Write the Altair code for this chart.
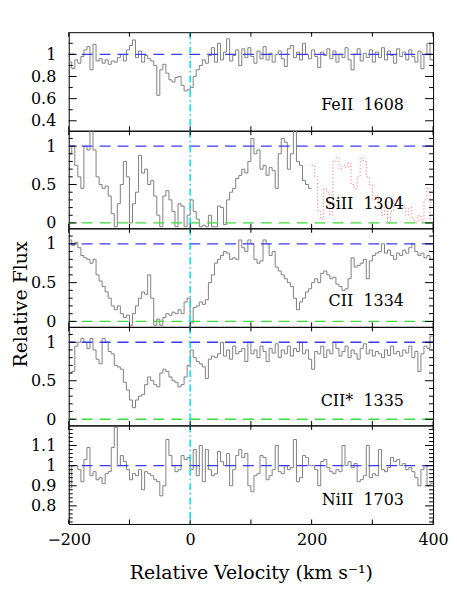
import json
import altair as alt
import pandas as pd

# ---------------- data ----------------
STEP = 5            # km/s per spectral pixel (approx.)
V_START = -200
X_DOMAIN = [-200, 400]
X_TICKS = [-200, -100, 0, 100, 200, 300, 400]
X_LABELS = [-200, 0, 200, 400]
X_TITLE = "Relative Velocity (km s\u207b\u00b9)"
Y_TITLE = "Relative Flux"

# FeII 1608, v = -200 ... 395 (5 km/s steps)
FEII_1608 = [
    0.93, 0.87, 0.95, 0.92, 0.98, 1.04, 1.07, 0.86, 1.09, 0.94,
    0.96, 0.92, 0.95, 0.91, 0.94, 0.93, 0.97, 1.00, 0.94, 1.04,
    1.08, 1.13, 0.97, 1.03, 0.93, 0.99, 0.96, 0.94, 0.90, 0.63,
    0.86, 0.91, 0.83, 0.77, 0.75, 0.79, 0.80, 0.72, 0.67, 0.68,
    0.70, 0.80, 0.86, 0.90, 0.95, 0.92, 0.99, 1.06, 0.93, 1.10,
    0.95, 1.02, 1.14, 0.94, 0.99, 1.04, 0.90, 1.05, 0.97, 1.06,
    0.98, 0.92, 1.03, 0.96, 1.07, 0.95, 1.01, 0.93, 1.00, 1.03,
    0.96, 0.89, 1.05, 1.08, 0.97, 1.02, 0.95, 1.10, 1.00, 0.96,
    1.04, 0.98, 0.88, 1.02, 0.99, 1.05, 0.96, 1.03, 0.93, 1.00,
    0.97, 1.06, 0.95, 0.86, 1.00, 1.05, 0.94, 1.01, 0.97, 1.04,
    0.93, 1.02, 0.97, 1.06, 0.95, 1.03, 0.99, 0.92, 1.05, 0.98,
    1.02, 0.95, 1.04, 0.98, 0.93, 1.03, 0.87, 1.00, 1.10, 0.95,
]

# SiII 1304, v = -200 ... 195
SIII_1304 = [
    0.90, 1.00, 0.75, 0.60, 0.45, 1.00, 0.95, 1.25, 0.95, 0.60,
    0.50, 0.45, 0.48, 0.35, 0.12, -0.05, 0.25, 0.50, 0.80, 0.60,
    0.00, 0.25, 0.40, 0.88, 0.65, 0.70, 0.50, 0.55, 0.35, 0.10,
    -0.05, 0.35, 0.42, 0.30, 0.15, -0.05, 0.25, 0.22, -0.05, 0.10,
    0.30, 0.15, 0.05, -0.05, -0.03, -0.05, 0.10, -0.05, -0.05, 0.22,
    0.20, -0.02, 0.30, 0.40, 0.45, 0.58, 0.62, 0.70, 0.65, 0.80,
    1.10, 0.90, 0.95, 0.70, 0.75, 0.62, 0.72, 0.68, 0.45, 0.90,
    1.10, 1.05, 0.70, 0.90, 1.25, 0.80, 0.75, 0.55, 0.50, 0.45,
]
# SiII 1304 blended part (dotted), v = 200 ... 395
SIII_1304_BLEND = [
    0.75, 0.60, 0.15, 0.05, 0.45, 0.40, 0.10, 0.80, 0.85, 0.70,
    0.75, 0.72, 0.78, 0.50, 0.45, 0.60, 0.85, 0.80, 0.60, 0.50,
    0.30, 0.35, 0.25, 0.10, 0.20, 0.00, 0.15, 0.30, 0.25, 0.20,
    0.22, 0.10, 0.20, 0.05, 0.00, 0.10, 0.02, 0.30, 0.45, 0.05,
]

# CII 1334, v = -200 ... 395
CII_1334 = [
    1.05, 0.98, 1.02, 0.95, 0.85, 0.82, 0.80, 0.75, 0.80, 0.60,
    0.52, 0.45, 0.38, 0.30, 0.20, 0.15, 0.20, 0.10, 0.05, 0.08,
    -0.05, 0.10, 0.20, 0.30, 0.38, 0.35, 0.60, 0.30, -0.05, 0.03,
    -0.05, 0.05, 0.10, 0.08, 0.12, 0.10, 0.15, 0.10, 0.25, 0.30,
    -0.02, 0.18, 0.20, 0.25, 0.22, 0.28, 0.50, 0.60, 0.75, 0.80,
    0.85, 0.90, 0.88, 0.80, 0.82, 0.80, 1.05, 0.95, 0.90, 1.05,
    1.00, 0.80, 0.75, 0.78, 1.05, 1.00, 0.85, 0.90, 0.70, 0.65,
    0.60, 0.55, 0.50, 0.45, 0.30, 0.15, 0.25, 0.30, 0.38, 0.42,
    0.50, 0.55, 0.50, 0.62, 0.65, 0.60, 0.55, 0.57, 0.48, 0.45,
    0.40, 0.42, 0.55, 0.82, 0.70, 0.72, 0.75, 0.80, 0.55, 0.78,
    0.85, 0.88, 0.90, 1.00, 0.88, 0.92, 0.85, 0.80, 0.88, 0.85,
    0.92, 0.88, 0.95, 1.00, 0.90, 0.85, 0.88, 0.82, 0.85, 0.80,
]

# CII* 1335, v = -200 ... 395
CIIS_1335 = [
    0.60, 0.62, 0.95, 1.00, 1.05, 1.00, 0.92, 1.05, 0.90, 0.78,
    0.72, 1.05, 1.00, 0.88, 0.85, 0.70, 0.68, 0.65, 0.48, 0.38,
    0.25, 0.15, 0.25, 0.30, 0.32, 0.45, 0.55, 0.50, 0.45, 0.42,
    0.60, 0.65, 0.62, 0.55, 0.50, 0.48, 0.42, 0.45, 0.55, 0.70,
    0.90, 0.80, 0.75, 0.72, 0.68, 0.53, 0.78, 0.82, 0.80, 0.85,
    1.00, 0.82, 0.90, 0.78, 0.95, 0.85, 0.88, 0.92, 0.75, 1.00,
    0.85, 0.90, 0.80, 0.95, 0.88, 0.75, 0.92, 0.86, 0.98, 0.80,
    0.90, 0.85, 0.95, 0.82, 0.92, 0.88, 1.00, 0.85, 0.90, 0.78,
    0.65, 0.88, 0.85, 0.95, 0.80, 0.90, 0.85, 1.00, 0.92, 0.82,
    0.88, 0.95, 0.80, 0.90, 0.85, 0.78, 0.92, 0.98, 0.85, 0.90,
    0.82, 0.88, 0.85, 0.80, 0.90, 0.83, 0.95, 0.85, 0.88, 0.82,
    0.90, 0.86, 0.95, 0.80, 0.88, 0.62, 0.85, 0.95, 0.92, 1.08,
]

# NiII 1703, v = -200 ... 395
NIII_1703 = [
    0.89, 1.00, 1.00, 0.98, 0.92, 1.03, 1.09, 0.95, 0.97, 0.93,
    0.94, 0.91, 0.96, 0.97, 1.09, 1.19, 1.00, 1.05, 1.02, 0.98,
    0.93, 0.96, 0.95, 0.98, 0.88, 0.97, 0.96, 0.95, 0.93, 0.92,
    0.85, 0.90, 1.13, 1.05, 1.00, 0.97, 0.98, 1.05, 1.03, 1.04,
    0.98, 1.08, 0.95, 1.10, 0.92, 1.08, 0.98, 0.95, 0.96, 1.07,
    1.02, 1.00, 1.06, 0.90, 0.98, 1.05, 1.08, 1.04, 1.06, 0.90,
    0.87, 0.95, 0.96, 1.05, 1.04, 0.93, 0.95, 0.98, 1.10, 0.97,
    0.96, 1.00, 0.98, 0.99, 1.13, 0.92, 0.94, 1.05, 1.04, 1.00,
    1.00, 0.98, 0.90, 1.02, 1.03, 0.99, 0.97, 0.96, 0.98, 0.97,
    1.10, 1.00, 1.02, 0.99, 1.01, 0.92, 0.93, 0.95, 1.10, 0.94,
    0.96, 0.95, 1.08, 0.98, 0.97, 0.99, 1.04, 1.02, 1.03, 1.00,
    1.01, 0.98, 0.99, 0.97, 0.94, 0.90, 0.98, 1.00, 0.90, 0.91,
]

LABELS = ["FeII\u00a0\u00a01608", "SiII\u00a0\u00a01304", "CII\u00a0\u00a01334",
          "CII*\u00a0\u00a01335", "NiII\u00a0\u00a01703"]

# y tick values per panel
TICKS_FE_MAJOR = [0.4, 0.6, 0.8, 1.0]
TICKS_FE_MINOR = [0.5, 0.7, 0.9, 1.1]
TICKS_01_MAJOR = [0.0, 0.5, 1.0]
TICKS_01_MINOR = [0.1, 0.2, 0.3, 0.4, 0.6, 0.7, 0.8, 0.9, 1.1]
TICKS_NI_MAJOR = [0.8, 0.9, 1.0, 1.1]
TICKS_NI_MINOR = [0.72, 0.74, 0.76, 0.78, 0.82, 0.84, 0.86, 0.88, 0.92, 0.94,
                  0.96, 0.98, 1.02, 1.04, 1.06, 1.08, 1.12, 1.14, 1.16, 1.18]

# ---------------- layout / style ----------------
FONT = "DejaVu Serif"
W = 366
MAJOR_LEN = 8
MINOR_LEN = 4
XTICK_LEN = 4.5

PANELS = [
    dict(flux=FEII_1608, label=LABELS[0], dom=[0.31, 1.2], major=TICKS_FE_MAJOR,
         minor=TICKS_FE_MINOR, ly=0.545, zero=False, h=99),
    dict(flux=SIII_1304, label=LABELS[1], dom=[-0.07, 1.2], major=TICKS_01_MAJOR,
         minor=TICKS_01_MINOR, ly=0.246, zero=True, h=98, blend=SIII_1304_BLEND),
    dict(flux=CII_1334, label=LABELS[2], dom=[-0.07, 1.2], major=TICKS_01_MAJOR,
         minor=TICKS_01_MINOR, ly=0.26, zero=True, h=99, title=True),
    dict(flux=CIIS_1335, label=LABELS[3], dom=[-0.08, 1.2], major=TICKS_01_MAJOR,
         minor=TICKS_01_MINOR, ly=0.24, zero=True, h=99),
    dict(flux=NIII_1703, label=LABELS[4], dom=[0.71, 1.2], major=TICKS_NI_MAJOR,
         minor=TICKS_NI_MINOR, ly=0.83, zero=False, h=99),
]


def step_frame(values, start):
    v = [start + STEP * i for i in range(len(values) + 1)]
    f = list(values) + [values[-1]]
    return pd.DataFrame({"v": v, "f": f})


def one_row():
    return pd.DataFrame({"k": [0]})


def tick_frame(vals):
    return pd.DataFrame({"t": list(vals)})


def make_panel(cfg, last):
    h = cfg["h"]
    xs = alt.Scale(domain=X_DOMAIN, nice=False, zero=False)
    ys = alt.Scale(domain=cfg["dom"], nice=False, zero=False)

    left_kw = dict(orient="left", values=cfg["major"], ticks=False, format="~g",
                   labelPadding=13, labelOverlap=False, labelFlush=False, title=None)
    if cfg.get("title"):
        left_kw.update(title=Y_TITLE, titleY=76, titlePadding=0)
    left = alt.Axis(**left_kw)

    if last:
        bottom = alt.Axis(orient="bottom", values=X_LABELS, ticks=False, format="d",
                          labelPadding=8, labelFlush=False, labelOverlap=False,
                          title=X_TITLE, titlePadding=16)
    else:
        bottom = None

    spec = step_frame(cfg["flux"], V_START)
    layers = [
        alt.Chart(spec).mark_line(interpolate="step-after", color="#808080",
                                  strokeWidth=1, clip=True)
        .encode(x=alt.X("v:Q", scale=xs, axis=bottom), y=alt.Y("f:Q", scale=ys, axis=left))
    ]
    if "blend" in cfg:
        layers.append(
            alt.Chart(step_frame(cfg["blend"], 200))
            .mark_line(interpolate="step-after", color="#ff7a7a", strokeWidth=1,
                       strokeDash=[1.2, 2.2], clip=True)
            .encode(x=alt.X("v:Q", scale=xs, axis=None), y=alt.Y("f:Q", scale=ys, axis=None))
        )
    layers.append(
        alt.Chart(one_row()).mark_rule(color="#3a3aff", strokeWidth=1.3, strokeDash=[11, 7])
        .encode(y=alt.YDatum(1, axis=None))
    )
    if cfg["zero"]:
        layers.append(
            alt.Chart(one_row()).mark_rule(color="#3ddc3d", strokeWidth=1.3, strokeDash=[11, 7])
            .encode(y=alt.YDatum(0, axis=None))
        )
    layers.append(
        alt.Chart(one_row()).mark_rule(color="#00e0f0", strokeWidth=1.5, strokeDash=[7, 3, 1.5, 3])
        .encode(x=alt.XDatum(0, axis=None))
    )
    layers.append(
        alt.Chart(pd.DataFrame({"label": [cfg["label"]]}))
        .mark_text(font=FONT, fontSize=16, align="right", baseline="middle", color="black")
        .encode(x=alt.XDatum(352, axis=None), y=alt.YDatum(cfg["ly"], axis=None), text="label:N")
    )

    # inward tick marks on all four sides
    tick = dict(color="black", strokeWidth=1)
    ymaj = tick_frame(cfg["major"])
    ymin = tick_frame(cfg["minor"])
    xt = tick_frame(X_TICKS)
    for df, ln in ((ymaj, MAJOR_LEN), (ymin, MINOR_LEN)):
        yenc = alt.Y("t:Q", scale=ys, axis=None)
        layers.append(alt.Chart(df).mark_rule(**tick)
                      .encode(y=yenc, x=alt.value(0), x2=alt.value(ln)))
        layers.append(alt.Chart(df).mark_rule(**tick)
                      .encode(y=yenc, x=alt.value(W - ln), x2=alt.value(W)))
    xenc = alt.X("t:Q", scale=xs, axis=None)
    layers.append(alt.Chart(xt).mark_rule(**tick)
                  .encode(x=xenc, y=alt.value(0), y2=alt.value(XTICK_LEN)))
    layers.append(alt.Chart(xt).mark_rule(**tick)
                  .encode(x=xenc, y=alt.value(h - XTICK_LEN), y2=alt.value(h)))

    return (alt.layer(*layers)
            .resolve_axis(x="independent", y="independent")
            .properties(width=W, height=h))


panels = [make_panel(c, i == len(PANELS) - 1) for i, c in enumerate(PANELS)]

chart = (
    alt.vconcat(*panels, spacing=0, bounds="flush")
    .properties(padding={"left": 3, "top": 21, "right": 0, "bottom": 0})
    .configure_view(stroke="black", strokeWidth=1)
    .configure_axis(labelFont=FONT, labelFontSize=16, labelColor="black",
                    titleFont=FONT, titleFontSize=19, titleFontWeight="normal",
                    titleColor="black", domain=False, grid=False)
)

chart.save("out.html", embed_options={"renderer": "svg", "actions": False})
